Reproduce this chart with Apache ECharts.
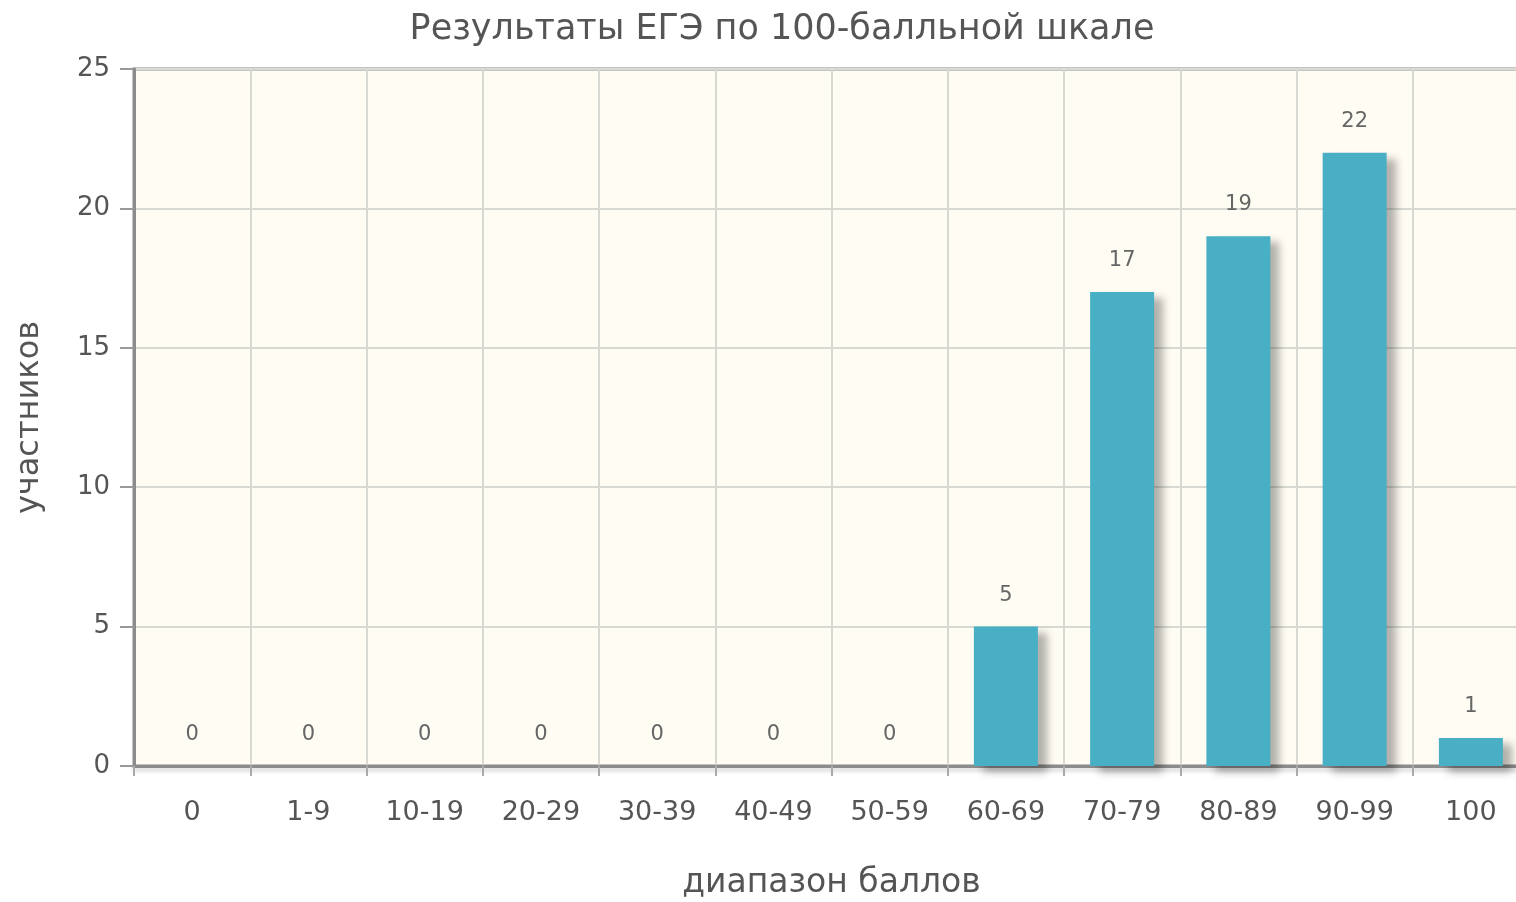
<!DOCTYPE html>
<html>
<head>
<meta charset="utf-8">
<script src="https://cdn.jsdelivr.net/npm/echarts@6/dist/echarts.min.js"></script>
<style>
  html, body { margin: 0; padding: 0; background: #fff; overflow: hidden; }
  #chart { width: 1516px; height: 902px; }
</style>
</head>
<body>
<div id="chart"></div>
<script>
// диапазоны баллов и число участников
var ranges = ['0', '1-9', '10-19', '20-29', '30-39', '40-49', '50-59', '60-69', '70-79', '80-89', '90-99', '100'];
var counts = [0, 0, 0, 0, 0, 0, 0, 5, 17, 19, 22, 1];

var myChart = echarts.init(document.getElementById('chart'));

var font = '"DejaVu Sans", Verdana, sans-serif';

option = {
    animation: false,
    title: {
        text: 'Результаты ЕГЭ по 100-балльной шкале',
        left: 777,
        top: 7,
        textAlign: 'center',
        textStyle: { fontFamily: font, fontSize: 35, fontWeight: 'normal', color: '#555' }
    },
    grid: {
        left: 134,
        right: -13,
        top: 69,
        bottom: 136,
        outerBoundsMode: 'none',
        containLabel: false,
        show: true,
        backgroundColor: '#fffcf4',
        borderColor: '#8c8c8c',
        borderWidth: 3
    },
    xAxis: {
        type: 'category',
        data: ranges,
        name: 'диапазон баллов',
        nameLocation: 'middle',
        nameGap: 101,
        nameTextStyle: { fontFamily: font, fontSize: 33, color: '#555' },
        axisLine: { lineStyle: { color: '#8c8c8c', width: 3, shadowColor: 'rgba(0,0,0,0.2)', shadowBlur: 4, shadowOffsetY: 3 } },
        axisTick: { show: true, length: 10, interval: 0, lineStyle: { color: '#aaa', width: 2 } },
        axisLabel: { fontFamily: font, fontSize: 27, color: '#555', margin: 33, interval: 0 },
        splitLine: { show: true, interval: 0, lineStyle: { color: '#d9d9d4', width: 2 } }
    },
    yAxis: {
        type: 'value',
        min: 0,
        max: 25,
        interval: 5,
        name: 'участников',
        nameLocation: 'middle',
        nameGap: 88,
        nameTextStyle: { fontFamily: font, fontSize: 32, color: '#555' },
        axisLine: { show: true, lineStyle: { color: '#8c8c8c', width: 3 } },
        axisTick: { show: true, length: 14, lineStyle: { color: '#999', width: 2 } },
        axisLabel: { fontFamily: font, fontSize: 26, color: '#555', margin: 24 },
        splitLine: { show: true, lineStyle: { color: '#d9d9d4', width: 2 } }
    },
    series: [{
        type: 'bar',
        data: counts,
        barWidth: 64,
        itemStyle: {
            color: '#49afc4',
            shadowColor: 'rgba(0,0,0,0.3)',
            shadowBlur: 8,
            shadowOffsetX: 9,
            shadowOffsetY: 6
        },
        label: {
            show: true,
            position: 'top',
            distance: 21,
            fontFamily: font,
            fontSize: 21,
            color: '#666'
        }
    }]
};

myChart.setOption(option);
</script>
</body>
</html>
